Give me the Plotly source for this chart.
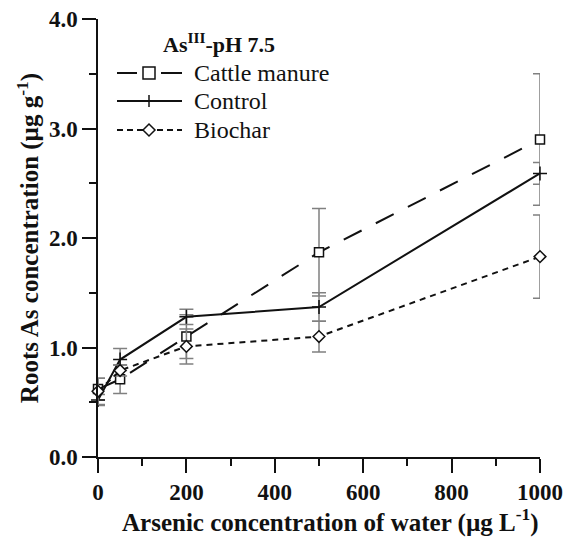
import plotly.graph_objects as go

# Arsenic concentration of irrigation water (µg L-1)
water_as = [0, 50, 200, 500, 1000]

# Root As concentration (µg g-1) and standard deviations per treatment
cattle = [0.62, 0.71, 1.10, 1.87, 2.90]
cattle_sd = [0.10, 0.13, 0.20, 0.40, 0.60]
control = [0.52, 0.89, 1.28, 1.37, 2.59]
control_sd = [0.05, 0.10, 0.07, 0.13, 0.10]
biochar = [0.60, 0.79, 1.01, 1.10, 1.83]
biochar_sd = [0.12, 0.05, 0.16, 0.14, 0.38]

legend_title = "As<sup>III</sup>-pH 7.5"
names = ["Cattle manure", "Control", "Biochar"]
x_title = "Arsenic concentration of water (µg L<sup>-1</sup>)"
y_title = "Roots As concentration (µg g<sup>-1</sup>)"

FONT = "Liberation Serif"
INK = "#111111"
ERR = "#808080"

W, H = 564, 537
ML, MR, MT, MB = 98, 24, 19, 80
PW, PH = W - ML - MR, H - MT - MB


def px(x):
    """Pixel column -> paper x."""
    return (x - ML) / PW


def py(y):
    """Pixel row (from top) -> paper y."""
    return (H - MB - y) / PH


styles = [
    dict(dash="20px,16px", symbol="square", size=9),
    dict(dash="solid", symbol="cross-thin", size=10),
    dict(dash="6px,5px", symbol="diamond", size=9),
]

fig = go.Figure()

for yv, sd, st in zip([cattle, control, biochar], [cattle_sd, control_sd, biochar_sd], styles):
    fig.add_trace(go.Scatter(
        x=water_as, y=yv, mode="lines+markers", cliponaxis=False, showlegend=False,
        line=dict(color=INK, width=2, dash=st["dash"]),
        marker=dict(symbol=st["symbol"], size=st["size"], color="white",
                    line=dict(color=INK, width=1.5)),
        error_y=dict(type="data", array=sd, visible=True, color=ERR,
                     thickness=1.5, width=7),
    ))

# Hand-built legend block (paper coordinates derived from pixel positions)
leg_rows = [73, 101, 130]
x0, x1, xm = 117, 182, 149
line_kw = dict(type="line", xref="paper", yref="paper", layer="above")

# Cattle manure: split long-dash line around an open square
r = leg_rows[0]
for a, b in ((x0, 137), (161, x1)):
    fig.add_shape(x0=px(a), x1=px(b), y0=py(r), y1=py(r), line=dict(color=INK, width=2), **line_kw)
fig.add_shape(type="rect", xref="paper", yref="paper", x0=px(xm - 6), x1=px(xm + 6),
              y0=py(r - 6), y1=py(r + 6), fillcolor="white", line=dict(color=INK, width=1.5))

# Control: solid line with a thin cross
r = leg_rows[1]
fig.add_shape(x0=px(x0), x1=px(x1), y0=py(r), y1=py(r), line=dict(color=INK, width=2), **line_kw)
fig.add_shape(x0=px(xm), x1=px(xm), y0=py(r - 6), y1=py(r + 6), line=dict(color=INK, width=1.5), **line_kw)

# Biochar: short-dash line with an open diamond
r = leg_rows[2]
fig.add_shape(x0=px(x0), x1=px(x1), y0=py(r), y1=py(r),
              line=dict(color=INK, width=2, dash="6px,4px"), **line_kw)
fig.add_shape(type="path", xref="paper", yref="paper",
              path="M %f %f L %f %f L %f %f L %f %f Z" % (
                  px(xm - 6), py(r), px(xm), py(r - 6), px(xm + 6), py(r), px(xm), py(r + 6)),
              fillcolor="white", line=dict(color=INK, width=1.5))

for r, name in zip(leg_rows, names):
    fig.add_annotation(x=px(192), y=py(r), xref="paper", yref="paper", text=name,
                       showarrow=False, xanchor="left", yanchor="middle",
                       font=dict(family=FONT, size=24, color=INK))

fig.add_annotation(x=px(161), y=py(43), xref="paper", yref="paper",
                   text="<b>" + legend_title + "</b>",
                   showarrow=False, xanchor="left", yanchor="middle",
                   font=dict(family=FONT, size=22, color=INK))

# x-axis title placed just beneath the tick labels
fig.add_annotation(x=px(330), y=py(520), xref="paper", yref="paper",
                   text="<b>" + x_title + "</b>", showarrow=False,
                   xanchor="center", yanchor="middle",
                   font=dict(family=FONT, size=25, color=INK))

axis_common = dict(
    showline=True, linecolor=INK, linewidth=1.5, mirror=False,
    ticks="outside", ticklen=14, tickwidth=1.5, tickcolor=INK,
    showgrid=False, zeroline=False, automargin=False,
    tickfont=dict(family=FONT, size=23, color=INK),
)

x_ticks = [0, 200, 400, 600, 800, 1000]
y_ticks = [0, 1, 2, 3, 4]

fig.update_layout(
    width=W, height=H,
    margin=dict(l=ML, r=MR, t=MT, b=MB),
    paper_bgcolor="white", plot_bgcolor="white",
    font=dict(family=FONT, color=INK),
    xaxis=dict(
        range=[0, 1000], tickmode="array", tickvals=x_ticks,
        ticktext=["<b>%d</b>" % v for v in x_ticks],
        minor=dict(dtick=100, tick0=0, ticks="outside", ticklen=7, tickwidth=1.5, tickcolor=INK),
        **axis_common,
    ),
    yaxis=dict(
        range=[0, 4], tickmode="array", tickvals=y_ticks,
        ticktext=["<b>%.1f</b>" % v for v in y_ticks],
        minor=dict(dtick=0.5, tick0=0, ticks="outside", ticklen=7, tickwidth=1.5, tickcolor=INK),
        title=dict(text="<b>" + y_title + "</b>",
                   font=dict(family=FONT, size=25, color=INK), standoff=3),
        **axis_common,
    ),
)

fig.write_html("out.html")
